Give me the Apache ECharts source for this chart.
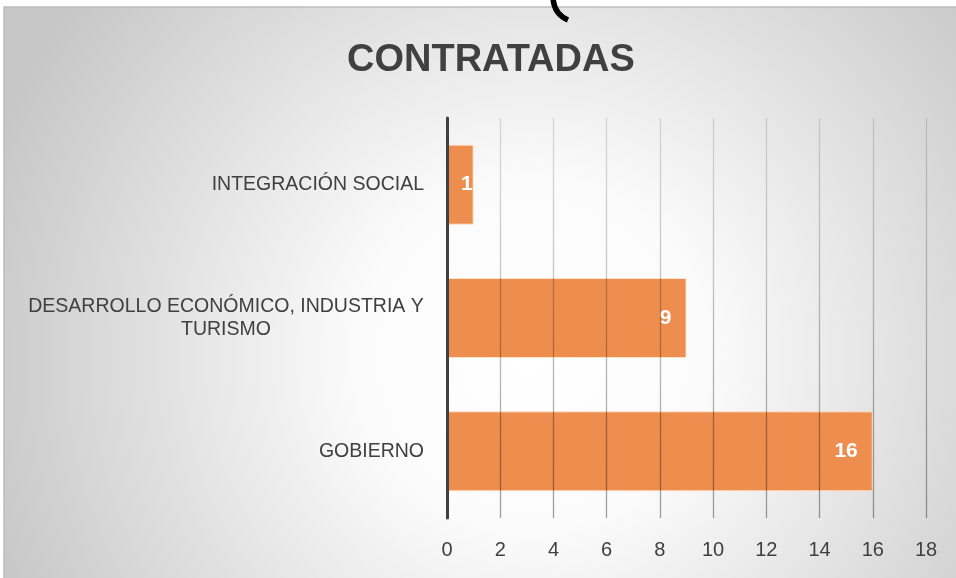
<!DOCTYPE html>
<html>
<head>
<meta charset="utf-8">
<script src="https://cdn.jsdelivr.net/npm/echarts@6/dist/echarts.min.js"></script>
<style>
html,body{margin:0;padding:0;background:#fff;}
#chart{width:956px;height:578px;}
</style>
</head>
<body>
<div id="chart"></div>
<script>
const titleText = 'CONTRATADAS';
const categories = ['GOBIERNO', 'DESARROLLO ECONÓMICO, INDUSTRIA Y\nTURISMO', 'INTEGRACIÓN SOCIAL'];
const values = [16, 9, 1];
const xMin = 0, xMax = 18, xStep = 2;

const chart = echarts.init(document.getElementById('chart'));
const FONT = '"Liberation Sans", Arial, sans-serif';

const seriesData = values.map(function (v) {
  if (v < 2) {
    return { value: v, label: { position: 'insideLeft', distance: 14 } };
  }
  return v;
});

chart.setOption({
  backgroundColor: '#ffffff',
  animation: false,
  title: {
    text: titleText,
    left: 342,
    top: 37,
    textStyle: { fontFamily: FONT, fontSize: 38, fontWeight: 'bold', color: '#404040' }
  },
  graphic: [
    {
      type: 'rect', z: -100, silent: true,
      shape: { x: 4, y: 7, width: 960, height: 580 },
      style: {
        fill: {
          type: 'radial', x: 0.55, y: 0.6, r: 1,
          colorStops: [
            { offset: 0, color: '#ffffff' },
            { offset: 0.3, color: '#fbfbfb' },
            { offset: 1, color: '#c6c6c6' }
          ]
        },
        stroke: '#bdbdbd', lineWidth: 1.5
      }
    },
    {
      type: 'bezierCurve', z: 100, silent: true,
      shape: { x1: 553, y1: -2, x2: 568, y2: 20, cpx1: 554, cpy1: 14 },
      style: { fill: null, stroke: '#000', lineWidth: 5.5 }
    }
  ],
  grid: { left: 447, right: 30, top: 118, bottom: 60, containLabel: false },
  xAxis: {
    type: 'value',
    min: xMin, max: xMax, interval: xStep,
    z: 3,
    axisLine: { show: false },
    axisTick: { show: false },
    axisLabel: { margin: 22, fontFamily: FONT, fontSize: 20, color: '#404040' },
    splitLine: {
      show: true,
      lineStyle: {
        width: 1.3,
        color: {
          type: 'linear', x: 0, y: 0, x2: 0, y2: 1,
          colorStops: [
            { offset: 0, color: 'rgba(0,0,0,0.12)' },
            { offset: 1, color: 'rgba(0,0,0,0.38)' }
          ]
        }
      }
    }
  },
  yAxis: {
    type: 'category',
    data: categories,
    z: 4,
    axisLine: { show: true, lineStyle: { color: '#404040', width: 3 } },
    axisTick: { show: false },
    axisLabel: {
      margin: 23,
      fontFamily: FONT, fontSize: 19.5, color: '#404040',
      formatter: function (val) {
        if (val.indexOf('\n') >= 0) {
          return val.split('\n').map(function (s) { return '{c|' + s + '}'; }).join('\n');
        }
        return val;
      },
      rich: {
        c: { width: 396, align: 'center', fontFamily: FONT, fontSize: 19.5, color: '#404040', lineHeight: 23 }
      }
    },
    splitLine: { show: false }
  },
  series: [{
    type: 'bar',
    data: seriesData,
    barWidth: 80,
    itemStyle: { color: '#ED8D4E', borderColor: 'rgba(255,230,210,0.9)', borderWidth: 1 },
    label: {
      show: true,
      position: 'insideRight',
      distance: 15,
      fontFamily: FONT, fontSize: 21, fontWeight: 'bold', color: '#ffffff'
    }
  }]
});
</script>
</body>
</html>
